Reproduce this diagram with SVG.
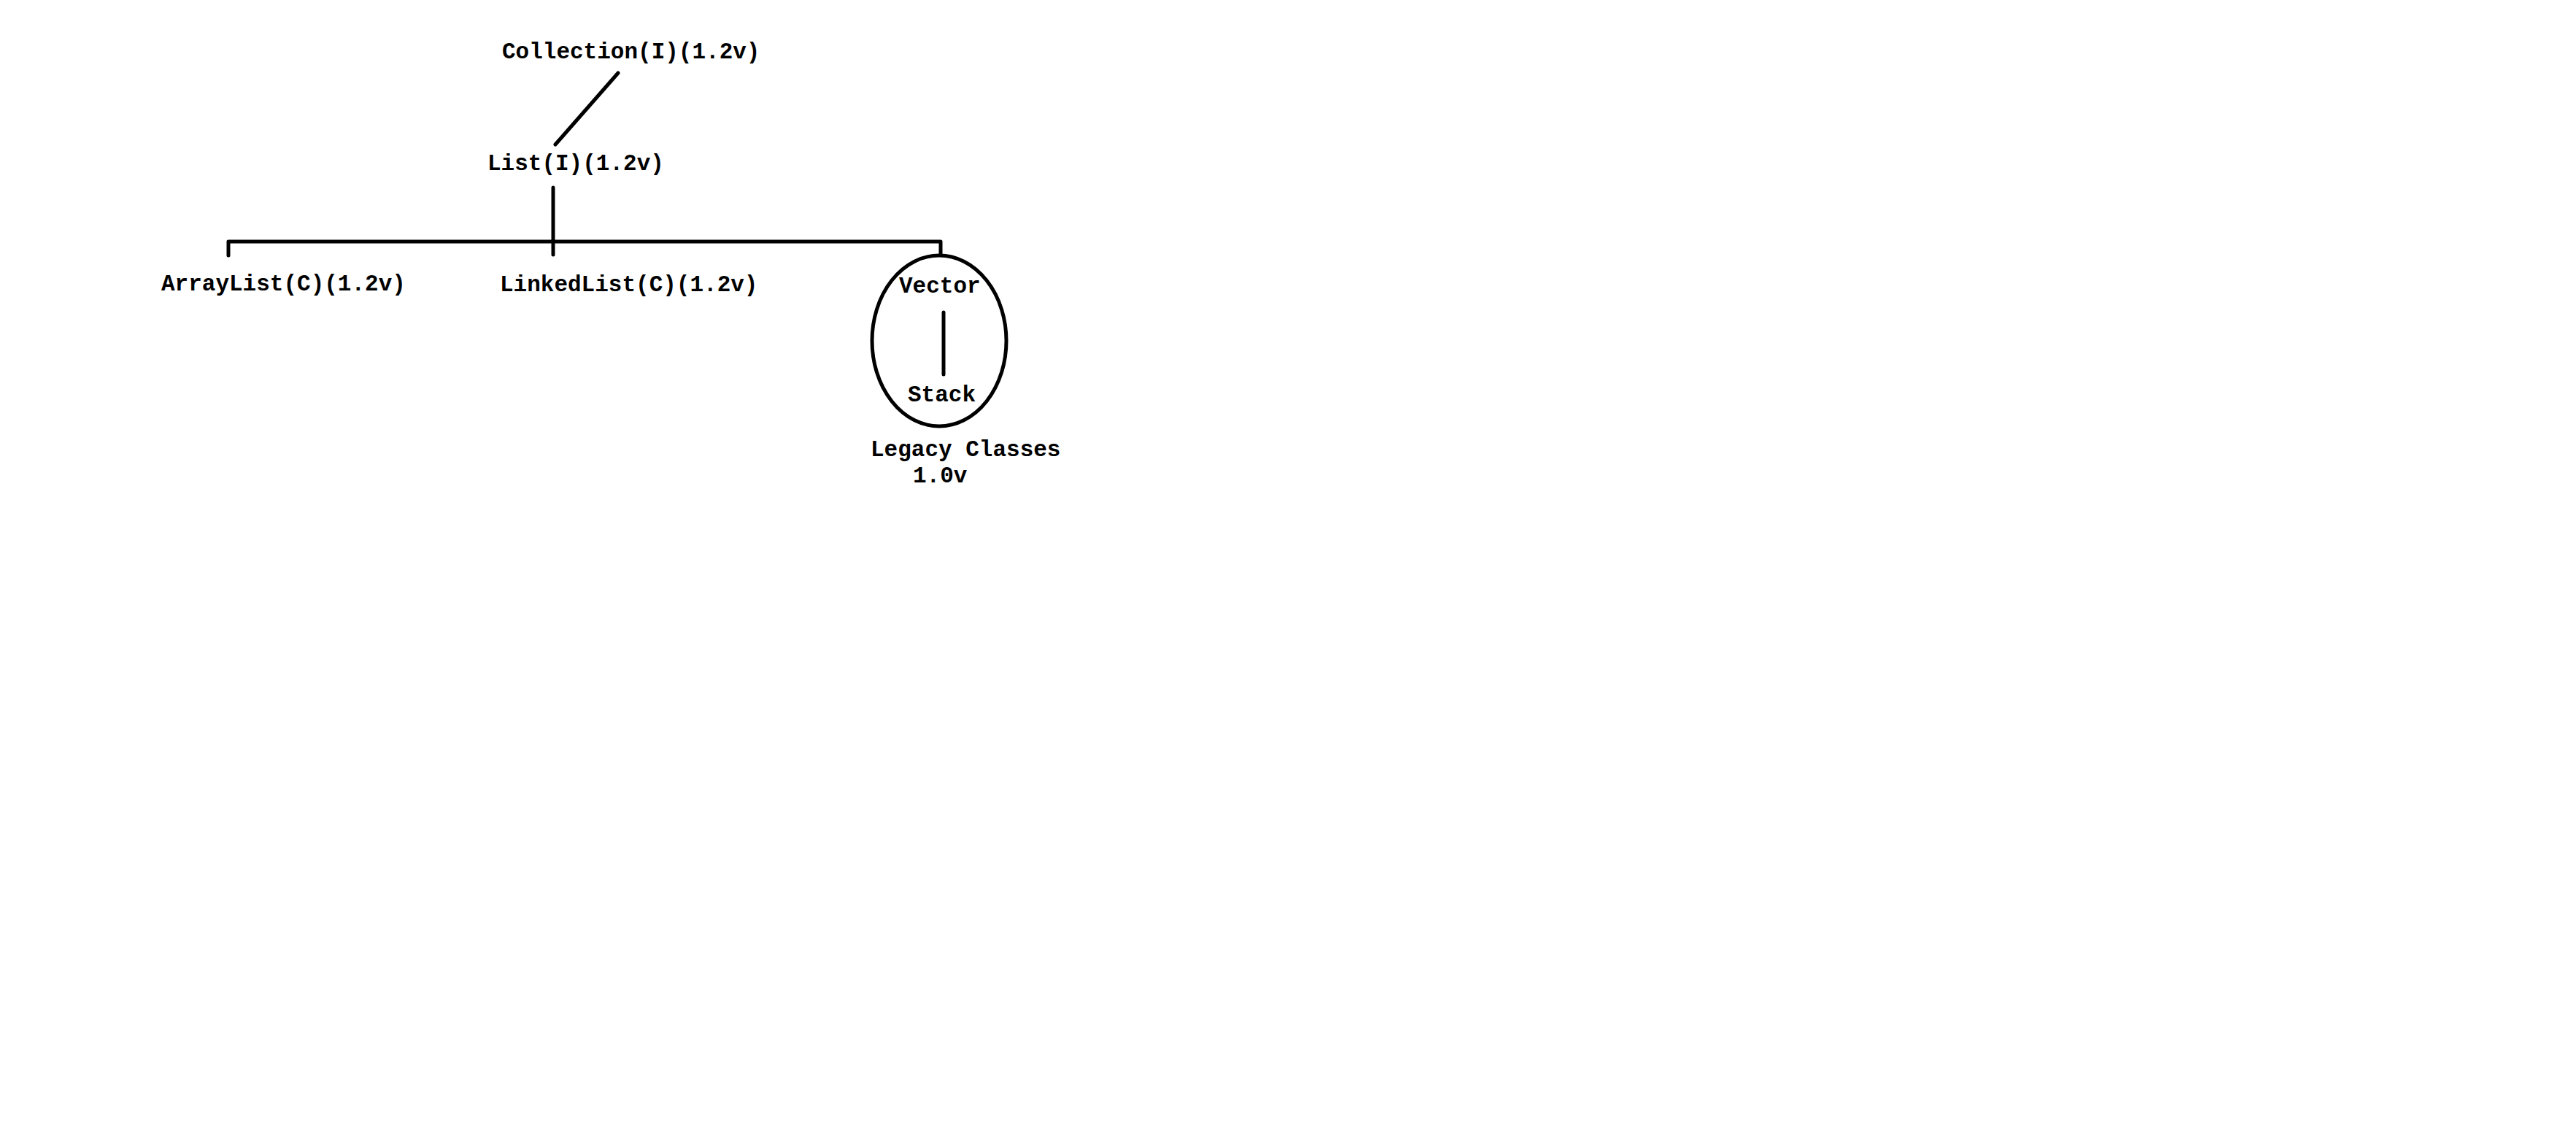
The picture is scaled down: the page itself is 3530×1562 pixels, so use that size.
<svg xmlns="http://www.w3.org/2000/svg" width="3530" height="1562" viewBox="0 0 3530 1562">
<style>
text{font-family:"Liberation Mono","Courier New",monospace;font-weight:bold;font-size:31px;fill:#000}
.c{fill:none;stroke:#000;stroke-width:5;stroke-linecap:round;stroke-linejoin:round}
</style>
<rect width="3530" height="1562" fill="#fff"/>
<g id="connectors">
<line class="c" x1="847" y1="100" x2="761" y2="198"/>
<line class="c" x1="758" y1="257" x2="758" y2="349"/>
<polyline class="c" points="313,350 313,331 1289,331 1289,349"/>
<line class="c" x1="1293" y1="428" x2="1293" y2="513"/>
</g>
<g id="collection"><text x="688" y="80">Collection(I)(1.2v)</text></g>
<g id="list"><text x="668" y="233">List(I)(1.2v)</text></g>
<g id="arraylist"><text x="221" y="398">ArrayList(C)(1.2v)</text></g>
<g id="linkedlist"><text x="685" y="399">LinkedList(C)(1.2v)</text></g>
<g id="legacy">
<ellipse class="c" cx="1287" cy="467" rx="92" ry="117"/>
<text x="1232" y="401">Vector</text>
<text x="1244" y="550">Stack</text>
<text x="1193" y="625">Legacy Classes</text>
<text x="1251" y="661">1.0v</text>
</g>
</svg>
